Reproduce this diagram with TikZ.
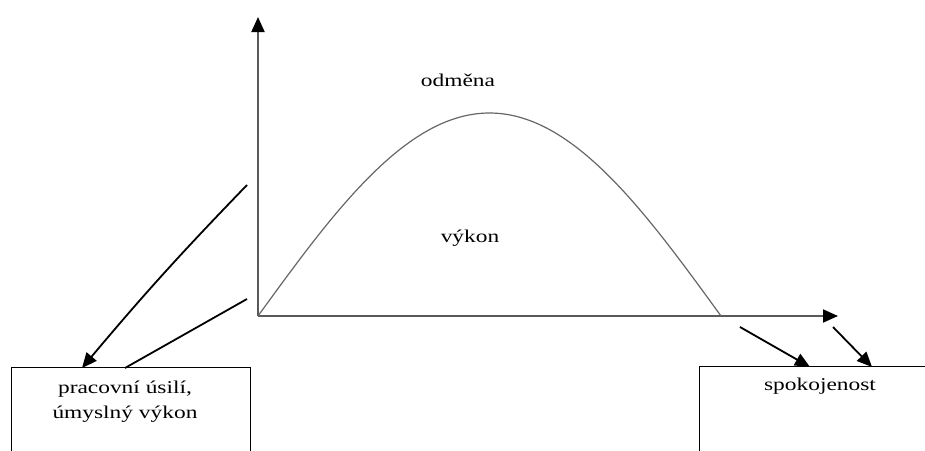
\documentclass[tikz,border=0pt]{standalone}
\usepackage{fontspec}
\newfontfamily\tf[FakeStretch=1.3]{Liberation Serif}
\usetikzlibrary{arrows.meta}
\tikzset{
  axis/.style={draw=black!65, line width=2pt, -{Triangle[length=15pt,width=13pt,color=black]}},
  curveline/.style={draw=black!60, line width=1.2pt},
  conn/.style={draw=black, line width=1.8pt},
  connarrow/.style={conn, -{Triangle[length=15pt,width=13pt]}},
  boxarea/.style={draw=none, rectangle, inner sep=0pt},
  boxedge/.style={draw=black, line width=1pt},
  lbl/.style={font=\tf\fontsize{18pt}{25pt}\selectfont, inner sep=0pt, align=center, text=black}
}
\begin{document}
\begin{tikzpicture}[x=1pt,y=-1pt]
\useasboundingbox (0,0) rectangle (925,450);
% boxes
\node[boxarea, minimum width=238pt, minimum height=86pt] (lbox) at (131,411) {};
\node[boxarea, minimum width=232pt, minimum height=86pt] (rbox) at (816,410) {};
\draw[boxedge] (lbox.south west) -- (lbox.north west) -- (lbox.north east) -- (lbox.south east);
\draw[boxedge] (rbox.south west) -- (rbox.north west) -- (rbox.north east);
% box texts
\node[lbl, anchor=base] (ltext) at (125,418) {pracovní úsilí,\\úmyslný výkon};
\node[lbl, anchor=base] (rtext) at (820,390) {spokojenost};
% axes
\coordinate (O) at (258,316);
\coordinate (Ytip) at (258,17);
\coordinate (Xtip) at (838,316);
\draw[axis] (O) -- (Ytip);
\draw[axis] (O) -- (Xtip);
% curve
\draw[curveline] plot[domain=0:180, samples=80, smooth] ({258+2.5722*\x},{316-203*sin(\x)});
% labels
\node[lbl] (odmena) at (458,80) {odměna};
\node[lbl] (vykon) at (470,238) {výkon};
% left connectors
\coordinate (la) at (247,185);
\coordinate (lb) at (247,299);
\coordinate (lat) at (82,368);
\coordinate (lbt) at (125,368);
\draw[connarrow] (la) to[bend right=2] (lat);
\draw[conn] (lb) -- (lbt);
% right connectors
\coordinate (ra) at (740,327);
\coordinate (rb) at (833,327);
\coordinate (rat) at (810,367);
\coordinate (rbt) at (872,367);
\draw[connarrow] (ra) -- (rat);
\draw[connarrow] (rb) -- (rbt);
\end{tikzpicture}
\end{document}
